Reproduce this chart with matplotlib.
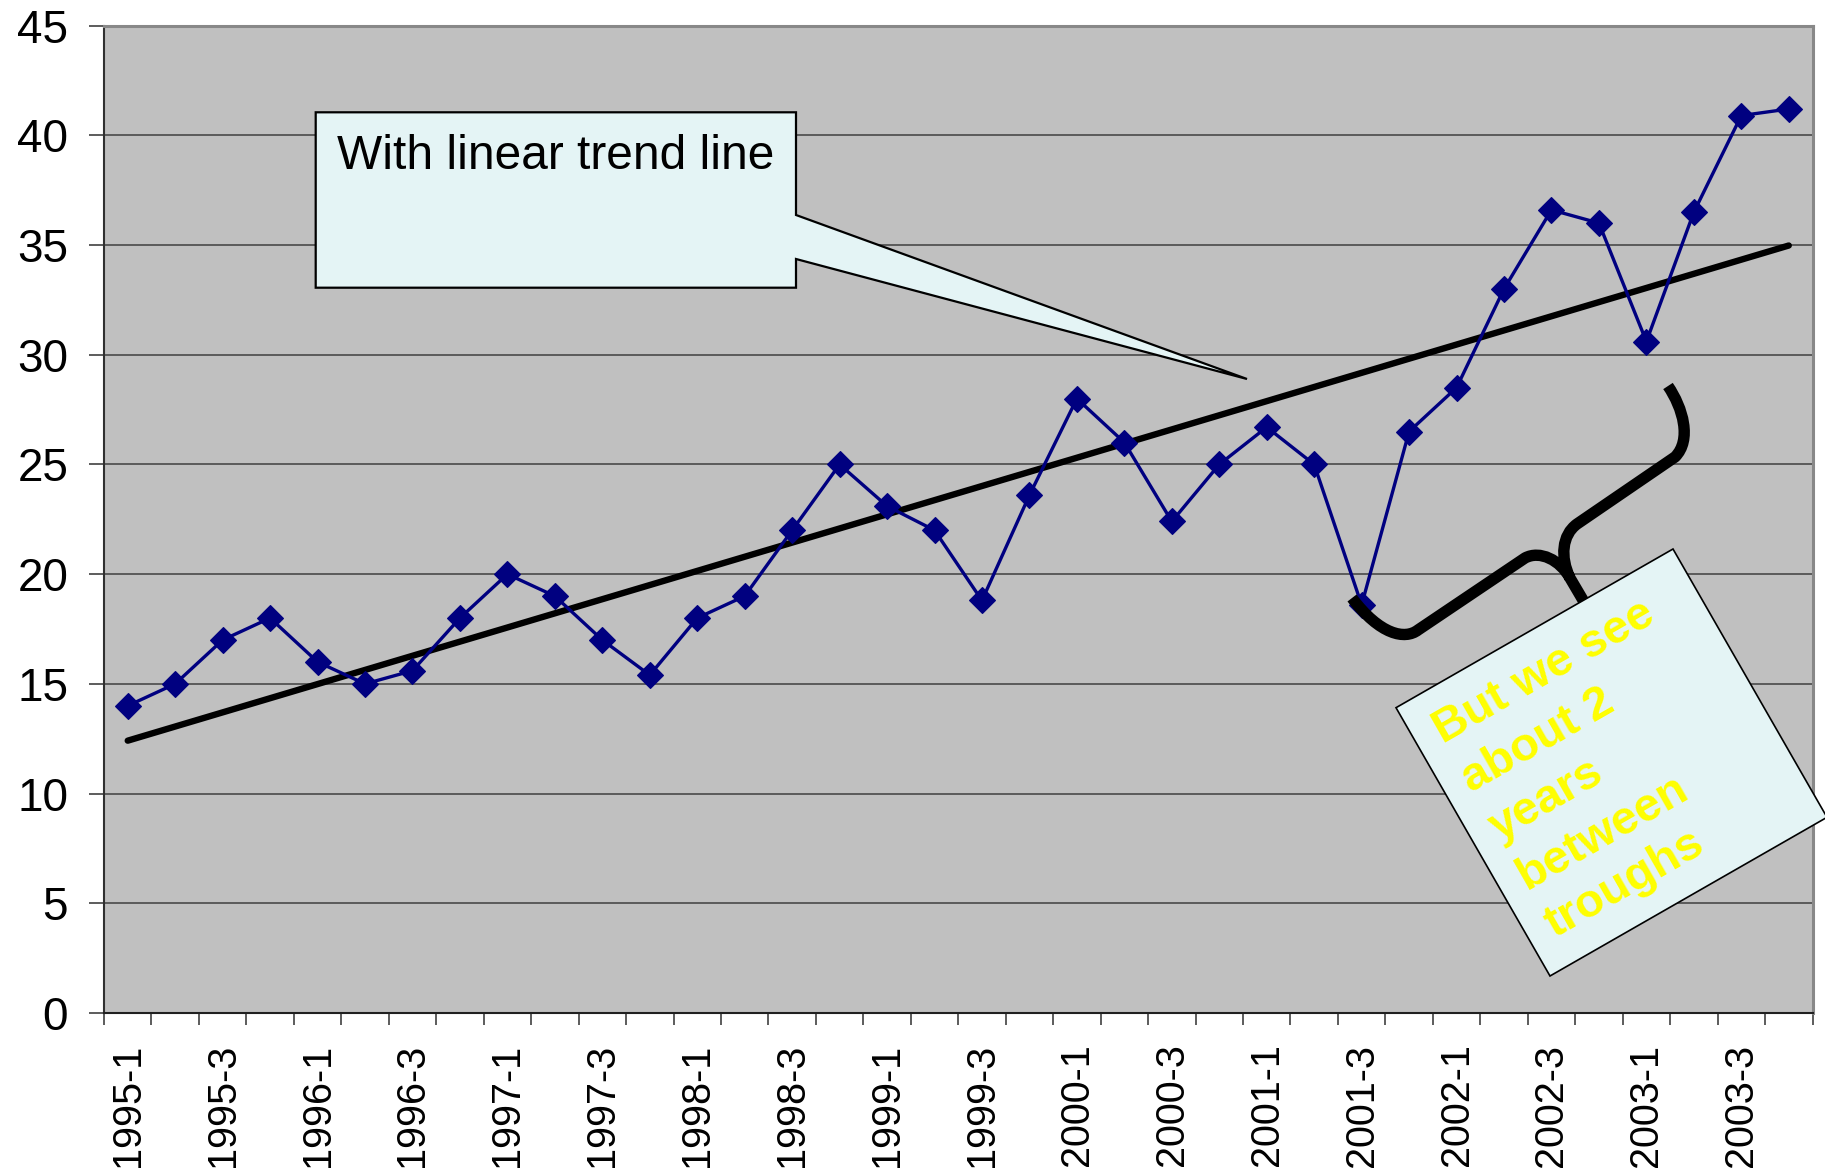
import numpy as np
import matplotlib.pyplot as plt
from matplotlib.patches import Polygon, PathPatch
from matplotlib.path import Path

plt.rcParams['font.family'] = ['Liberation Sans', 'DejaVu Sans']

# quarterly values 1995-1 .. 2003-4
quarters = [f"{y}-{q}" for y in range(1995, 2004) for q in range(1, 5)]
values = [14.0, 15.0, 17.0, 18.0, 16.0, 15.0, 15.6, 18.0,
          20.0, 19.0, 17.0, 15.4, 18.0, 19.0, 22.0, 25.0,
          23.1, 22.0, 18.8, 23.6, 28.0, 26.0, 22.4, 25.0,
          26.7, 25.0, 18.6, 26.5, 28.5, 33.0, 36.6, 36.0,
          30.6, 36.5, 40.9, 41.2]
yticks = list(range(0, 50, 5))
note_lines = ["But we see", "about 2", "years", "between", "troughs"]

W, H = 1825, 1176
fig = plt.figure(figsize=(W / 100, H / 100), dpi=100)
ax = fig.add_axes([104 / W, 1 - 1013 / H, (1812.5 - 104) / W, (1013 - 25.6) / H])


def px(x, y):
    # figure pixel (y down) -> figure fraction
    return (x / W, 1 - y / H)


x = np.arange(len(values))
coef = np.polyfit(x, values, 1)
trend = np.polyval(coef, x)

ax.set_facecolor('#C0C0C0')
ax.plot(x, trend, color='black', lw=4.6, zorder=3, solid_capstyle='round')
ax.plot(x, values, color='#000080', lw=2.4, marker='D', ms=13, mew=0.8, zorder=4)

ax.set_xlim(-0.5, len(values) - 0.5)
ax.set_ylim(0, 45)
ax.set_yticks(yticks)
ax.grid(axis='y', color='#404040', lw=1.1)
ax.set_axisbelow(True)

ax.set_xticks(np.arange(-0.5, len(values), 1.0))
ax.set_xticklabels([])
ax.set_xticks(x[::2], minor=True)
ax.set_xticklabels(quarters[::2], minor=True, rotation=90, fontsize=28.5)
ax.tick_params(axis='x', which='major', length=8.6, width=1.1, color='#303030', direction='out')
ax.tick_params(axis='x', which='minor', length=0, pad=22)
ax.tick_params(axis='y', length=10.8, width=1.1, color='#303030', labelsize=33, pad=15)

for s in ['top', 'right']:
    ax.spines[s].set_color('#888888')
    ax.spines[s].set_linewidth(2.2)
ax.spines['left'].set_color('#303030')
ax.spines['left'].set_linewidth(1.5)
ax.spines['bottom'].set_color('#202020')
ax.spines['bottom'].set_linewidth(1.5)

tf = fig.transFigure

# callout with linear trend line label
call = [(315.7, 112.3), (796, 112.3), (796, 215), (1247, 379), (796, 259),
        (796, 287.7), (315.7, 287.7)]
ax.add_patch(Polygon([px(*p) for p in call], closed=True, transform=tf, clip_on=False,
                     facecolor='#E4F4F5', edgecolor='black', lw=1.6, joinstyle='miter', zorder=5))
fig.text(*px(337, 169), "With linear trend line", fontsize=34.5, color='black',
         ha='left', va='baseline', zorder=6)

# curly brace
verts = [(1668, 386), (1683, 408), (1692, 440), (1675, 457),
         (1577, 524),
         (1562, 535), (1560, 557), (1570, 578),
         (1590, 612),
         (1570, 578), (1560, 560), (1540, 550), (1525, 558),
         (1418, 630),
         (1405, 640), (1380, 635), (1352, 598)]
codes = [Path.MOVETO, Path.CURVE4, Path.CURVE4, Path.CURVE4,
         Path.LINETO,
         Path.CURVE4, Path.CURVE4, Path.CURVE4,
         Path.LINETO,
         Path.MOVETO, Path.CURVE4, Path.CURVE4, Path.CURVE4,
         Path.LINETO,
         Path.CURVE4, Path.CURVE4, Path.CURVE4]
brace = Path([px(*v) for v in verts], codes)
ax.add_patch(PathPatch(brace, transform=tf, clip_on=False, facecolor='none',
                       edgecolor='black', lw=8.2, capstyle='butt', joinstyle='round', zorder=6))

# rotated note box
box = [(1396, 707.7), (1673, 549), (1827, 817.3), (1550, 976)]
ax.add_patch(Polygon([px(*p) for p in box], closed=True, transform=tf, clip_on=False,
                     facecolor='#E4F4F5', edgecolor='black', lw=1.2, zorder=7))
ang = 29.8
step = np.array([np.sin(np.radians(ang)), np.cos(np.radians(ang))]) * 56
for i, line in enumerate(note_lines):
    bx, by = np.array([1443, 744]) + i * step
    fig.text(*px(bx, by), line, fontsize=34, fontweight='bold', color='#FFFF00',
             rotation=ang, rotation_mode='anchor', ha='left', va='baseline', zorder=8)

fig.savefig('out.png', dpi=100)
